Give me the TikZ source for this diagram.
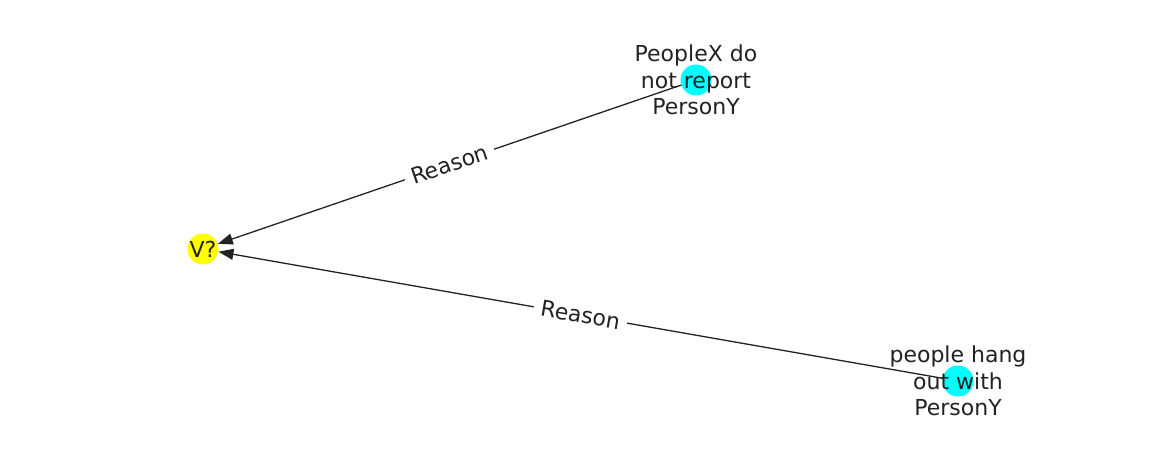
\documentclass[tikz,border=0pt]{standalone}
\usepackage{fontspec}
\setmainfont{DejaVu Sans}
\usetikzlibrary{arrows.meta,backgrounds,calc}
\definecolor{nodecyan}{RGB}{0,255,255}
\definecolor{nodeyellow}{RGB}{255,255,0}
\definecolor{inkgray}{RGB}{34,34,34}
\begin{document}
\begin{tikzpicture}[x=1pt,y=-1pt,
  vnode/.style={circle,minimum size=31pt,inner sep=0pt,fill=#1},
  lbl/.style={font=\fontsize{22}{26.5}\selectfont,text=inkgray,align=center},
  edgelbl/.style={font=\fontsize{22}{26.5}\selectfont,text=inkgray,fill=white,inner xsep=7pt,inner ysep=3pt},
  conn/.style={draw=inkgray,line width=1.3pt,-{Triangle[length=15pt,width=11pt]}}]
\useasboundingbox (0,0) rectangle (1162,462);
\node[vnode=nodeyellow] (v) at (203,249) {};
\node[vnode=nodecyan] (a) at (696,80) {};
\node[vnode=nodecyan] (b) at (958,381) {};
\begin{scope}[on background layer]
\draw[conn] (a.center) -- (v);
\draw[conn] (b.center) -- (v);
\end{scope}
\node[edgelbl,rotate=18.9] (la) at ($(a)!0.5!(v)$) {Reason};
\node[edgelbl,rotate=-9.9] (lb) at (580.5,315) {Reason};
\node[lbl] (tv) at (v) {V?};
\node[lbl] (ta) at (a) {PeopleX do\\not report\\PersonY};
\node[lbl] (tb) at (b) {people hang\\out with\\PersonY};
\end{tikzpicture}
\end{document}
